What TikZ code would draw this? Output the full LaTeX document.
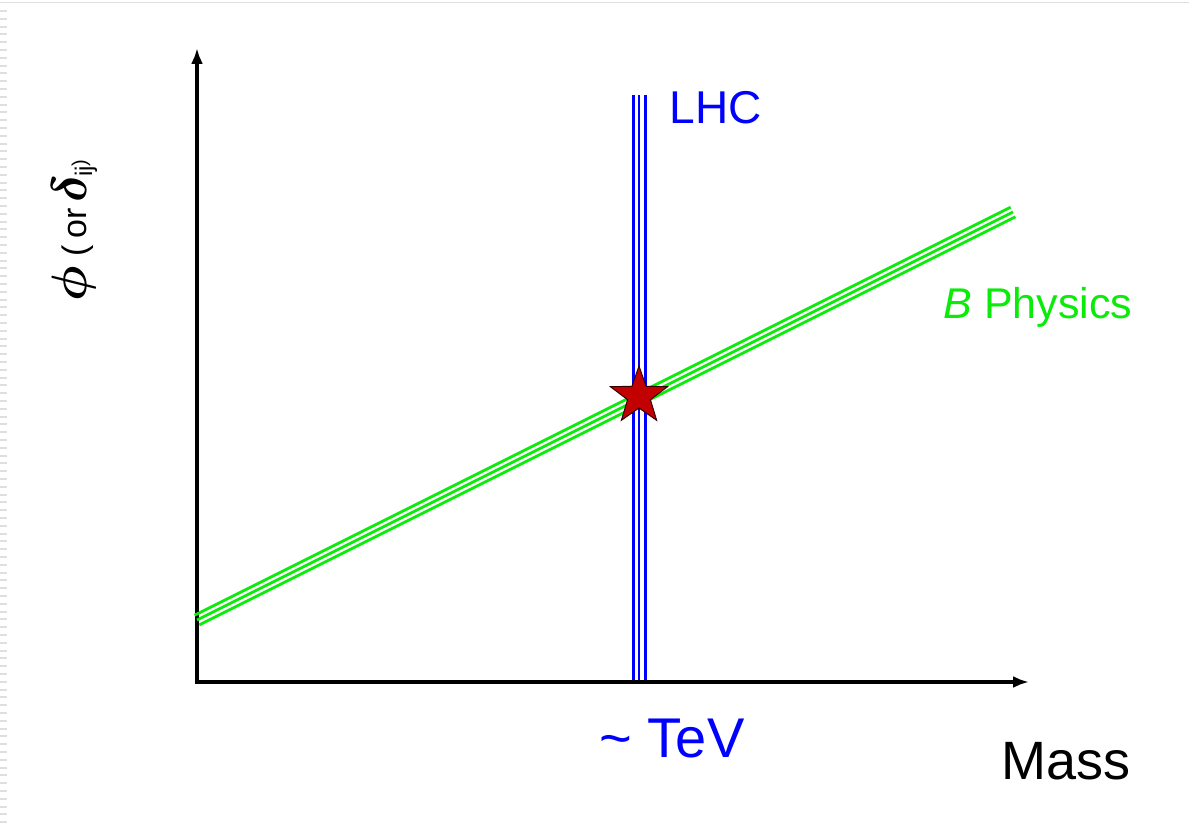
\documentclass[tikz,border=0pt]{standalone}
\usepackage{fontspec}
\setmainfont{Liberation Sans}
\usepackage{bm}
\usetikzlibrary{arrows.meta,calc,shapes.geometric}
\definecolor{lhcblue}{RGB}{0,0,255}
\definecolor{bgreen}{RGB}{10,235,10}
\definecolor{starred}{RGB}{195,0,0}
\tikzset{
  axis/.style={line width=2.2pt,{Latex[length=8pt,width=6pt]}-{Latex[length=8pt,width=6pt]}},
  lhcline/.style={lhcblue,line width=1.2pt},
  bline/.style={bgreen,line width=1.4pt},
  lbl/.style={inner sep=0pt,anchor=base},
  staricon/.style={star,star points=5,star point ratio=2.5,minimum size=30pt,inner sep=0pt,fill=starred,draw=black!80!red,line width=0.5pt},
  border/.style={gray!25,line width=0.8pt}
}
\begin{document}
\begin{tikzpicture}[x=0.5pt,y=-0.5pt]
\useasboundingbox (0,0) rectangle (1189,829);
% faint slide border
\draw[border] (0,2.5) -- (1189,2.5);
\draw[gray!25,line width=3.5pt,dash pattern=on 1pt off 2.9pt] (3.5,10) -- (3.5,829);
% axes
\coordinate (ytop) at (197,48);
\coordinate (O) at (197,682);
\coordinate (xend) at (1029,682);
\draw[axis,line join=miter] (ytop) -- (O) -- (xend);
% B physics band
\coordinate (bA) at (197,620);
\coordinate (bB) at (1013,212);
\foreach \s in {-1,0,1}{
  \draw[bline] ($(bA)+(\s*2.4,\s*4.8)$) -- ($(bB)+(\s*2.4,\s*4.8)$);
}
% LHC band
\coordinate (lA) at (639,95);
\coordinate (lB) at (639,680);
\foreach \s in {-5.5,0,6.5}{
  \draw[lhcline] ($(lA)+(\s,0)$) -- ($(lB)+(\s,0)$);
}
% star
\node[staricon] (st) at (639,396) {};
% labels
\node[lbl,lhcblue,font=\fontsize{23}{27}\selectfont] (lhc) at (716,124) {LHC};
\node[lbl,bgreen,font=\fontsize{21.5}{26}\selectfont,anchor=base west] (bphys) at (943,318) {\textit{B} Physics};
\node[lbl,lhcblue,font=\fontsize{28}{32}\selectfont] (tev) at (672,757) {\~{} TeV};
\node[lbl,black,font=\fontsize{27}{31}\selectfont] (mass) at (1066,779) {Mass};
\node[inner sep=0pt,rotate=90,anchor=base west] (ylab) at (86,302)
  {{\fontsize{24}{28}\selectfont$\bm{\phi}$}\kern5pt{\fontsize{17}{20}\selectfont(\kern3pt or\kern3pt}{\fontsize{24}{28}\selectfont$\bm{\delta}$}\kern-1pt{\fontsize{12}{14}\selectfont\raisebox{-3pt}{ij}})};
\end{tikzpicture}
\end{document}
